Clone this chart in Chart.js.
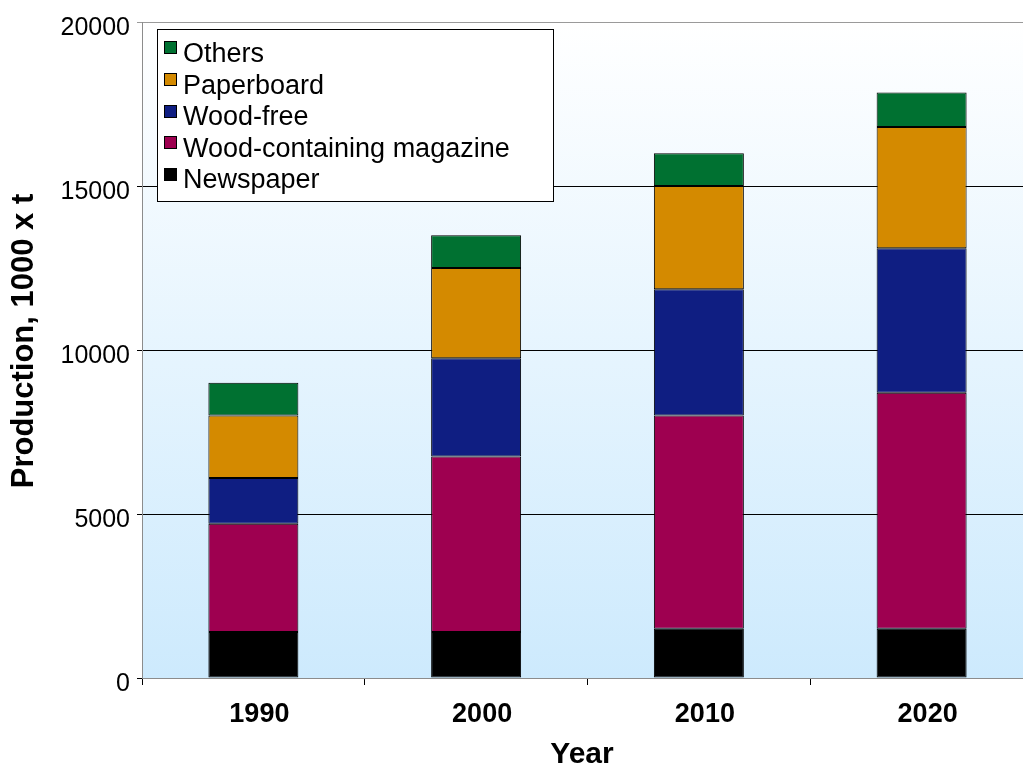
<!DOCTYPE html>
<html>
<head>
<meta charset="utf-8">
<script src="https://cdn.jsdelivr.net/npm/chart.js@4/dist/chart.umd.min.js"></script>
<style>
  html, body { margin: 0; padding: 0; background: #fff; overflow: hidden; }
  #wrap { width: 1040px; height: 768px; }
</style>
</head>
<body>
<div id="wrap"><canvas id="c" width="1040" height="768"></canvas></div>
<script>
// Paper production by grade, 1000 t
const years = ['1990', '2000', '2010', '2020'];
const newspaper = [1400, 1400, 1500, 1500];
const magazine = [3300, 5350, 6500, 7200];
const woodFree = [1400, 3000, 3850, 4400];
const paperboard = [1900, 2750, 3150, 3700];
const others = [1000, 1000, 1000, 1050];
const yTicks = [0, 5000, 10000, 15000, 20000];

const FONT = "'Liberation Sans', Arial, sans-serif";

const series = [
  { label: 'Newspaper', data: newspaper, color: '#000000' },
  { label: 'Wood-containing magazine', data: magazine, color: '#9e0050' },
  { label: 'Wood-free', data: woodFree, color: '#0f1e82' },
  { label: 'Paperboard', data: paperboard, color: '#d48a00' },
  { label: 'Others', data: others, color: '#007131' }
];

// Light sky gradient behind the plot
const plotBackground = {
  id: 'plotBackground',
  beforeDraw(chart) {
    const { ctx, chartArea: a } = chart;
    const g = ctx.createLinearGradient(0, a.top, 0, a.bottom);
    g.addColorStop(0, '#ffffff');
    g.addColorStop(1, '#cdeafd');
    ctx.save();
    ctx.fillStyle = g;
    ctx.fillRect(a.left, a.top, a.right - a.left, a.bottom - a.top);
    ctx.strokeStyle = '#9a9a9a';
    ctx.lineWidth = 1;
    ctx.beginPath();
    ctx.moveTo(a.left, a.top + 0.5);
    ctx.lineTo(a.right, a.top + 0.5);
    ctx.stroke();
    ctx.restore();
  }
};

// Boxed legend in the upper-left corner and the axis titles
const boxedLegend = {
  id: 'boxedLegend',
  afterDraw(chart) {
    const { ctx } = chart;
    ctx.save();
    ctx.fillStyle = '#ffffff';
    ctx.fillRect(157.5, 29.5, 396, 172);
    ctx.strokeStyle = '#000';
    ctx.lineWidth = 1;
    ctx.strokeRect(157.5, 29.5, 396, 172);
    const items = chart.data.datasets.slice().reverse();
    ctx.font = '27px ' + FONT;
    ctx.textBaseline = 'alphabetic';
    ctx.textAlign = 'left';
    items.forEach((ds, i) => {
      const top = Math.round(41 + i * 31.8) + 0.5;
      ctx.fillStyle = ds.backgroundColor;
      ctx.fillRect(164.5, top, 12, 12);
      ctx.strokeStyle = '#000';
      ctx.strokeRect(164.5, top, 12, 12);
      ctx.fillStyle = '#000';
      ctx.fillText(ds.label, 183, 62 + i * 31.6);
    });

    ctx.font = 'bold 30px ' + FONT;
    ctx.textAlign = 'center';
    ctx.textBaseline = 'alphabetic';
    ctx.fillText('Year', 582, 763);

    ctx.font = 'bold 31px ' + FONT;
    ctx.translate(33, 341);
    ctx.rotate(-Math.PI / 2);
    ctx.fillText('Production, 1000 x t', 0, 0);
    ctx.restore();
  }
};

new Chart(document.getElementById('c'), {
  type: 'bar',
  data: {
    labels: years,
    datasets: series.map(s => ({
      label: s.label,
      data: s.data,
      backgroundColor: s.color,
      borderColor: '#000',
      borderWidth: 1,
      borderSkipped: false,
      barPercentage: 0.404,
      categoryPercentage: 1
    }))
  },
  options: {
    responsive: false,
    animation: false,
    layout: { padding: { top: 17, right: 7, left: 0, bottom: 0 } },
    plugins: { legend: { display: false }, tooltip: { enabled: false } },
    scales: {
      x: {
        stacked: true,
        afterFit(scale) { scale.height = 90; },
        grid: {
          offset: true,
          drawOnChartArea: false,
          drawTicks: true,
          tickLength: 7,
          color: '#000'
        },
        border: { display: true, color: '#8c8c8c' },
        ticks: {
          color: '#000',
          font: { family: FONT, size: 27, weight: 'bold' },
          padding: 13,
          labelOffset: 6
        }
      },
      y: {
        stacked: true,
        min: 0,
        max: 20000,
        afterFit(scale) { scale.width = 142; },
        afterBuildTicks(scale) { scale.ticks = yTicks.map(v => ({ value: v })); },
        grid: {
          color: ctx => ctx.tick && ctx.tick.value === 20000 ? '#9a9a9a' : '#000',
          drawTicks: true,
          tickLength: 5
        },
        border: { display: true, color: '#8c8c8c' },
        ticks: {
          color: '#000',
          font: { family: FONT, size: 25 },
          padding: 7,
          labelOffset: 6,
          callback: v => String(v)
        }
      }
    }
  },
  plugins: [plotBackground, boxedLegend]
});
</script>
</body>
</html>
